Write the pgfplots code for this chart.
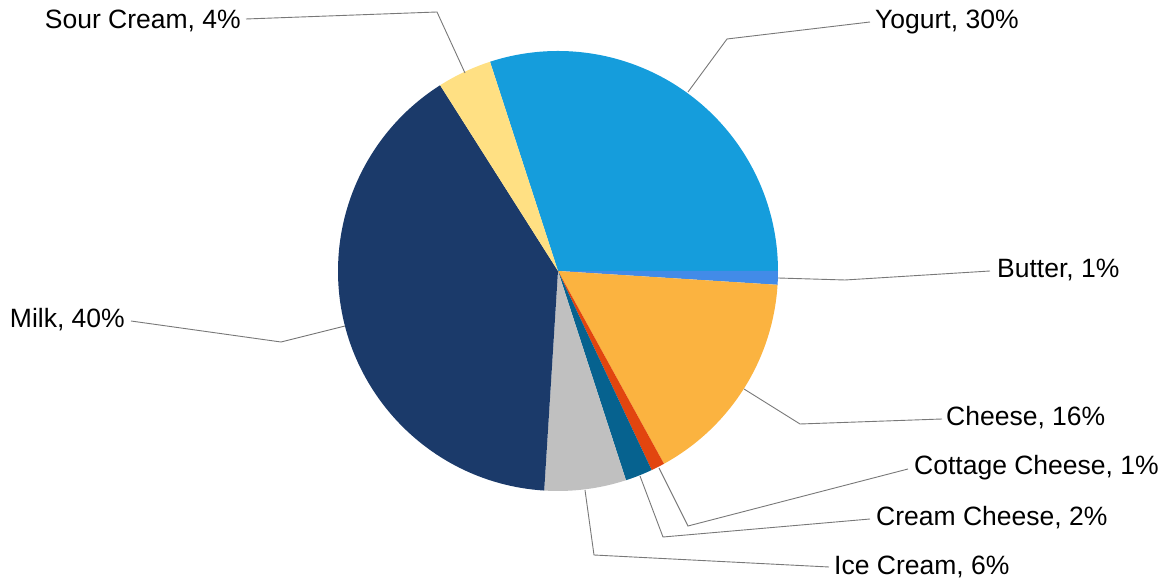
\documentclass[border=0pt]{standalone}
\usepackage{pgfplots}
\usepackage{pgfplotstable}
\pgfplotsset{compat=1.18}
\usepackage{fontspec}
\setmainfont{Liberation Sans}
\definecolor{cYog}{RGB}{21,157,220}
\definecolor{cBut}{RGB}{66,139,232}
\definecolor{cChe}{RGB}{251,179,64}
\definecolor{cCot}{RGB}{226,69,15}
\definecolor{cCrm}{RGB}{6,98,143}
\definecolor{cIce}{RGB}{192,192,192}
\definecolor{cMil}{RGB}{27,58,106}
\definecolor{cSou}{RGB}{255,224,131}
\definecolor{cLine}{RGB}{120,120,120}
\pgfplotstableread[col sep=comma]{
name,value,color
Yogurt,30,cYog
Butter,1,cBut
Cheese,16,cChe
Cottage Cheese,1,cCot
Cream Cheese,2,cCrm
Ice Cream,6,cIce
Milk,40,cMil
Sour Cream,4,cSou
}\piedata
\newcommand\lblfont{\fontsize{26.5bp}{30bp}\selectfont}
\tikzset{lbl/.style={font=\lblfont, inner sep=0pt, text=black},
         ldr/.style={cLine, line width=0.9bp}}
\begin{document}
\begin{tikzpicture}
\useasboundingbox (0,0) rectangle (1169bp,582bp);
\begin{axis}[
  at={(0,0)}, anchor=south west,
  scale only axis, width=1169bp, height=582bp,
  xmin=0, xmax=1169, ymin=0, ymax=582,
  hide axis, clip=false,
]
\def\cum{108}
\pgfplotsforeachungrouped \i in {0,...,7}{%
  \pgfplotstablegetelem{\i}{value}\of\piedata \let\v\pgfplotsretval
  \pgfplotstablegetelem{\i}{color}\of\piedata \let\c\pgfplotsretval
  \pgfmathsetmacro\endang{\cum-3.6*\v}%
  \edef\temp{\noexpand\fill[\c] (axis cs:558,311) -- ++(\cum:220bp) arc[start angle=\cum, end angle=\endang, radius=220bp] -- cycle;}%
  \temp
  \global\let\cum\endang
}
% leader lines (image y -> 582 - y)
\draw[ldr] (axis cs:246,563) -- (axis cs:437,570) -- (axis cs:465,509);
\node[lbl, anchor=east] at (axis cs:241,561) {Sour Cream, 4\%};
\draw[ldr] (axis cs:688,490) -- (axis cs:727,543) -- (axis cs:870,560);
\node[lbl, anchor=west] at (axis cs:875,560) {Yogurt, 30\%};
\draw[ldr] (axis cs:778,304) -- (axis cs:845,302) -- (axis cs:990,311);
\node[lbl, anchor=west] at (axis cs:997,312) {Butter, 1\%};
\draw[ldr] (axis cs:744,193) -- (axis cs:800,158) -- (axis cs:942,163);
\node[lbl, anchor=west] at (axis cs:946,164) {Cheese, 16\%};
\draw[ldr] (axis cs:659,114) -- (axis cs:688,56) -- (axis cs:908,113);
\node[lbl, anchor=west] at (axis cs:914,114) {Cottage Cheese, 1\%};
\draw[ldr] (axis cs:640,106) -- (axis cs:663,45) -- (axis cs:870,63);
\node[lbl, anchor=west] at (axis cs:876,64) {Cream Cheese, 2\%};
\draw[ldr] (axis cs:585,92) -- (axis cs:594,27) -- (axis cs:829,15);
\node[lbl, anchor=west] at (axis cs:834,15) {Ice Cream, 6\%};
\draw[ldr] (axis cs:131,261) -- (axis cs:281,240) -- (axis cs:345,256);
\node[lbl, anchor=east] at (axis cs:125,262) {Milk, 40\%};
\end{axis}
\end{tikzpicture}
\end{document}
